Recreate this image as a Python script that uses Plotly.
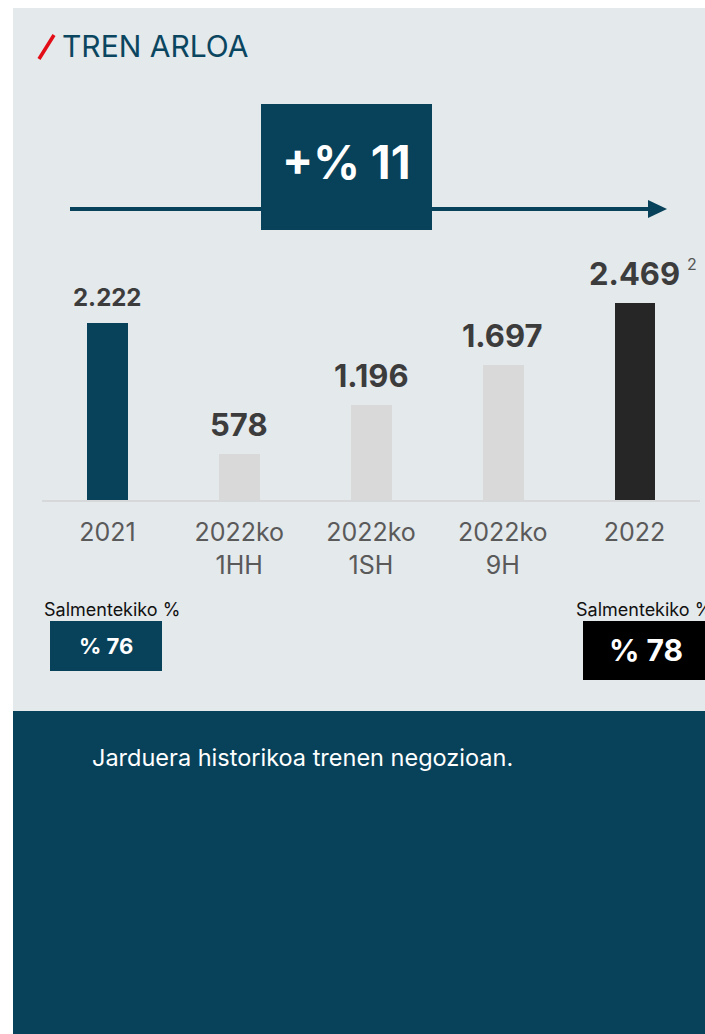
import plotly.graph_objects as go

W, H = 705, 1034

categories = ["2021", "2022ko<br>1HH", "2022ko<br>1SH", "2022ko<br>9H", "2022"]
values = [2222, 578, 1196, 1697, 2469]
value_labels = ["2.222", "578", "1.196", "1.697", "2.469"]
label_sizes = [24, 31, 31, 31, 31]
bar_colors = ["#08425a", "#d9d9d9", "#d9d9d9", "#d9d9d9", "#262626"]

title_text = "TREN ARLOA"
growth_text = "+% 11"
margin_label = "Salmentekiko %"
margin_left = "% 76"
margin_right = "% 78"
footnote_mark = "2"
description = "Jarduera historikoa trenen negozioan."

TEAL = "#08425a"
PANEL = "#e4e9ec"
FONT = "Inter"


def px(x):
    return x / W


def py(y):
    return 1 - y / H


fig = go.Figure()
fig.add_trace(go.Bar(
    x=categories, y=values, marker=dict(color=bar_colors, line=dict(width=0)),
    width=0.31, hoverinfo="skip", showlegend=False,
))

shapes = [
    dict(type="rect", xref="paper", yref="paper", x0=px(13), x1=px(705), y0=py(711), y1=py(8),
         fillcolor=PANEL, line=dict(width=0), layer="below"),
    dict(type="rect", xref="paper", yref="paper", x0=px(13), x1=px(705), y0=py(1034), y1=py(711),
         fillcolor=TEAL, line=dict(width=0), layer="below"),
    dict(type="line", xref="paper", yref="paper", x0=px(39), y0=py(59), x1=px(54), y1=py(35),
         line=dict(color="#e30d17", width=3.5)),
    dict(type="line", xref="paper", yref="paper", x0=px(70), y0=py(209), x1=px(652), y1=py(209),
         line=dict(color=TEAL, width=4)),
    dict(type="path", xref="paper", yref="paper",
         path=f"M {px(648)} {py(200)} L {px(667)} {py(209)} L {px(648)} {py(218)} Z",
         fillcolor=TEAL, line=dict(width=0)),
    dict(type="rect", xref="paper", yref="paper", x0=px(261), x1=px(432), y0=py(230), y1=py(104),
         fillcolor=TEAL, line=dict(width=0)),
    dict(type="rect", xref="paper", yref="paper", x0=px(50), x1=px(162), y0=py(671), y1=py(621),
         fillcolor=TEAL, line=dict(width=0)),
    dict(type="rect", xref="paper", yref="paper", x0=px(583), x1=px(705), y0=py(680), y1=py(621),
         fillcolor="#000000", line=dict(width=0)),
]

annotations = [
    dict(text=title_text, xref="paper", yref="paper", x=px(60), y=py(46), xanchor="left", yanchor="middle",
         showarrow=False, font=dict(family=FONT, size=30, color="#0b4660")),
    dict(text=f"<b>{growth_text}</b>", xref="paper", yref="paper", x=px(346), y=py(162), xanchor="center",
         yanchor="middle", showarrow=False, font=dict(family=FONT, size=46, color="white")),
    dict(text=margin_label, xref="paper", yref="paper", x=px(42), y=py(609), xanchor="left", yanchor="middle",
         showarrow=False, font=dict(family=FONT, size=18, color="#111111")),
    dict(text=margin_label, xref="paper", yref="paper", x=px(574), y=py(609), xanchor="left", yanchor="middle",
         showarrow=False, font=dict(family=FONT, size=18, color="#111111")),
    dict(text=f"<b>{margin_left}</b>", xref="paper", yref="paper", x=px(106), y=py(646), xanchor="center",
         yanchor="middle", showarrow=False, font=dict(family=FONT, size=22, color="white")),
    dict(text=f"<b>{margin_right}</b>", xref="paper", yref="paper", x=px(646), y=py(650), xanchor="center",
         yanchor="middle", showarrow=False, font=dict(family=FONT, size=30, color="white")),
    dict(text=description, xref="paper", yref="paper", x=px(90), y=py(757), xanchor="left", yanchor="middle",
         showarrow=False, font=dict(family=FONT, size=23.5, color="white")),
]

for i, (v, lab, fs) in enumerate(zip(values, value_labels, label_sizes)):
    annotations.append(dict(text=f"<b>{lab}</b>", x=i, y=v, xref="x", yref="y", xanchor="center",
                            yanchor="bottom", yshift=9, showarrow=False,
                            font=dict(family=FONT, size=fs, color="#3c3c3c")))

annotations.append(dict(text=footnote_mark, x=len(values) - 1, y=values[-1], xref="x", yref="y",
                        xanchor="left", yanchor="bottom", xshift=50, yshift=27, showarrow=False,
                        font=dict(family=FONT, size=16, color="#555555")))

fig.update_layout(
    width=W, height=H, margin=dict(l=0, r=0, t=0, b=0),
    paper_bgcolor="white", plot_bgcolor="rgba(0,0,0,0)",
    shapes=shapes, annotations=annotations, bargap=0,
    xaxis=dict(type="category", domain=[px(41.6), px(700.4)], range=[-0.5, 4.5], showgrid=False,
               zeroline=False, showline=True, linecolor="#d6d8d9", linewidth=2, ticks="",
               ticklabelstandoff=9, fixedrange=True,
               tickfont=dict(family=FONT, size=25, color="#5a5a5a")),
    yaxis=dict(domain=[py(500), py(250)], range=[0, 250 / 0.0797], visible=False, fixedrange=True),
)

fig.write_html("out.html", config={"displayModeBar": False},
               post_script="document.body.style.margin='0';document.body.style.overflow='hidden';")
